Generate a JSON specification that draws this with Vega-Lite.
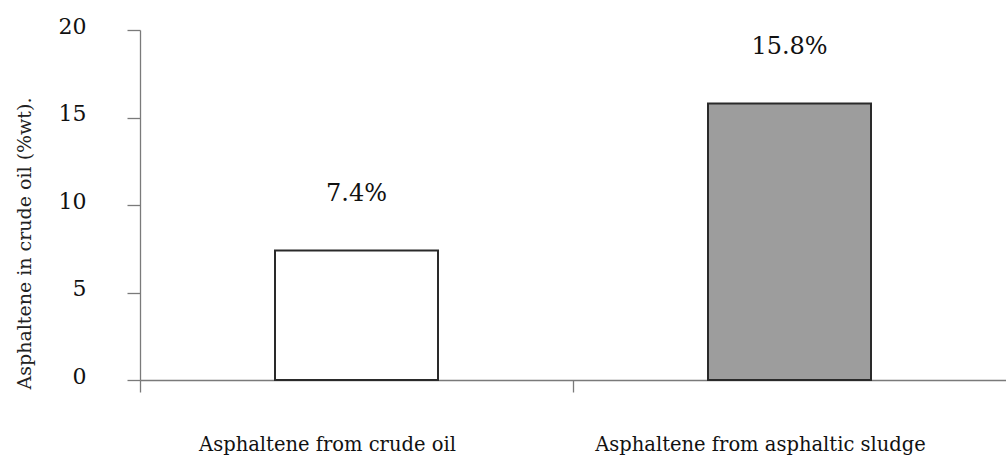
{
  "$schema": "https://vega.github.io/schema/vega-lite/v6.json",
  "autosize": "none",
  "width": 866,
  "height": 350,
  "padding": {"left": 140, "top": 30, "right": 0, "bottom": 80},
  "background": "white",
  "config": {
    "view": {"stroke": null},
    "font": "DejaVu Serif"
  },
  "data": {
    "values": [
      {"source": "Asphaltene from crude oil", "asphaltene": 7.4},
      {"source": "Asphaltene from asphaltic sludge", "asphaltene": 15.8}
    ]
  },
  "transform": [
    {"calculate": "format(datum.asphaltene, '.1f') + '%'", "as": "pct"}
  ],
  "encoding": {
    "x": {
      "field": "source",
      "type": "nominal",
      "sort": null,
      "scale": {"paddingInner": 0, "paddingOuter": 0},
      "axis": {
        "title": null,
        "labelAngle": 0,
        "bandPosition": 0,
        "labelOffset": -29,
        "labelLimit": 0,
        "labelFont": "DejaVu Serif",
        "labelFontSize": 19.5,
        "labelColor": "#111",
        "labelPadding": 43,
        "tickSize": 12,
        "tickColor": "#7a7a7a",
        "tickWidth": 1.3,
        "domainColor": "#7a7a7a",
        "domainWidth": 1.3,
        "grid": false
      }
    },
    "y": {
      "field": "asphaltene",
      "type": "quantitative",
      "scale": {"domain": [0, 20], "nice": false},
      "axis": {
        "title": "Asphaltene in crude oil (%wt).",
        "titleFont": "DejaVu Serif",
        "titleFontSize": 19,
        "titleFontWeight": "normal",
        "titleColor": "#222",
        "titleAngle": -90,
        "titleX": -116,
        "titleY": 213,
        "titleAlign": "center",
        "titleBaseline": "middle",
        "values": [0, 5, 10, 15, 20],
        "labelFont": "DejaVu Serif",
        "labelFontSize": 22,
        "labelColor": "#111",
        "labelPadding": 41,
        "labelOffset": -4,
        "tickSize": 13,
        "tickColor": "#7a7a7a",
        "tickWidth": 1.3,
        "domainColor": "#7a7a7a",
        "domainWidth": 1.3,
        "grid": false
      }
    }
  },
  "layer": [
    {
      "mark": {"type": "bar", "size": 163, "stroke": "#2a2a2a", "strokeWidth": 2},
      "encoding": {
        "color": {
          "field": "source",
          "type": "nominal",
          "sort": null,
          "scale": {"range": ["#ffffff", "#9d9d9d"]},
          "legend": null
        }
      }
    },
    {
      "mark": {"type": "text", "dy": -57, "baseline": "middle", "align": "center", "font": "DejaVu Serif", "fontSize": 24, "color": "#111"},
      "encoding": {"text": {"field": "pct", "type": "nominal"}}
    }
  ]
}
